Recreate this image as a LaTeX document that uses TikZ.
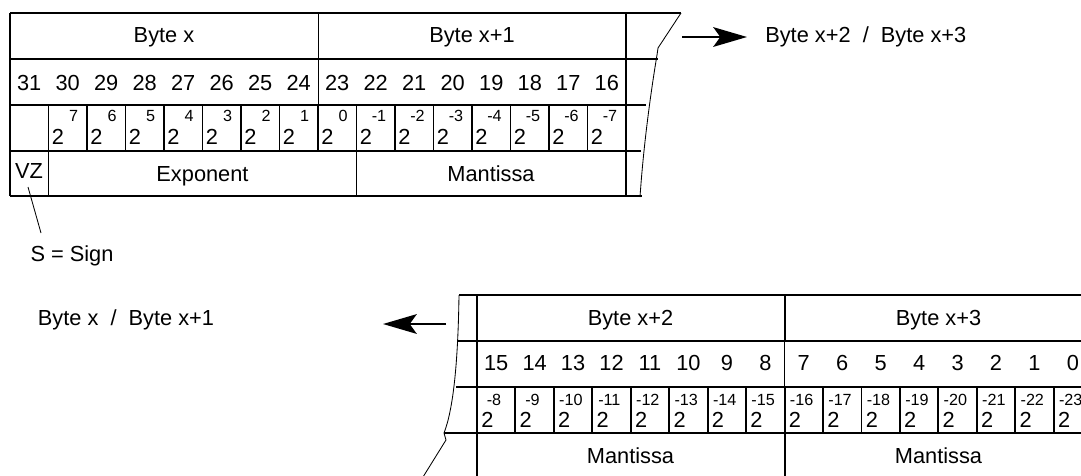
\documentclass[tikz,border=0pt]{standalone}
\usepackage{fontspec}
\setmainfont{Liberation Sans}
\usetikzlibrary{arrows.meta, calc}

\tikzset{
  grid/.style={line width=1.4pt},
  fine/.style={line width=0.6pt},
  tear/.style={line width=0.6pt},
  lbl/.style={font=\fontsize{15.5}{18}\selectfont, inner sep=0pt, anchor=base},
  expo/.style={font=\fontsize{11.5}{13}\selectfont, inner sep=0pt},
  bigarrow/.style={line width=1.4pt, -{Stealth[length=24pt, width=14pt, inset=5pt]}}
}

\begin{document}
\begin{tikzpicture}[x=0.25mm, y=-0.25mm]
  \useasboundingbox (0,0) rectangle (1081,475);
  \clip (0,0) rectangle (1081,475);
  %--- BYTE X / BYTE X+1 ---
  \begin{scope}[shift={(10,13)}]
    \draw[grid] (0,0) -- (671,0);
    \draw[grid] (0,46) -- (648,46);
    \draw[grid] (0,92) -- (636,92);
    \draw[grid] (0,138) -- (631,138);
    \draw[grid] (0,183) -- (632,183);
    \draw[grid] (0,0) -- (0,183);
    \draw[grid] (616,0) -- (616,183);
    \draw[fine] (308,0) -- (308,92);
    \foreach \k in {1,...,15}
      \draw[grid] (\k*38.5,92) -- (\k*38.5,138);
    \draw[grid] (38.5,138) -- (38.5,183);
    \draw[grid] (346.5,138) -- (346.5,183);
    \draw[tear] (671,0) -- (648,35) -- (647,42)
      .. controls (639,90) and (633,140) .. (630,184);
    \node[lbl] (bytex) at (154,29) {Byte x};
    \node[lbl] (bytexa) at (462,29) {Byte x+1};
    \foreach \b [count=\k from 0] in {31,...,16}
      \node[lbl] (bit\b) at (\k*38.5+19.25,77) {\b};
    \foreach \k in {1,...,15} {
      \pgfmathtruncatemacro\e{8-\k}
      \node[lbl, anchor=base west] (two\k) at (\k*38.5+3,131) {2};
      \node[expo, anchor=base east] (exp\k) at (\k*38.5+30,108) {\e};
    }
    \node[lbl] (vz) at (19,165) {VZ};
    \node[lbl] (exponent) at (192.5,168) {Exponent};
    \node[lbl] (mantA) at (481,168) {Mantissa};
  \end{scope}
  %--- BYTE X+2 / BYTE X+3 ---
  \begin{scope}[shift={(477,295)}]
    \draw[grid] (-18,0) -- (615,0);
    \draw[grid] (-19,46) -- (615,46);
    \draw[grid] (-21,92) -- (615,92);
    \draw[grid] (-33,138) -- (615,138);
    \draw[grid] (0,0) -- (0,184);
    \draw[grid] (307.6,0) -- (307.6,46);
    \draw[fine] (307.6,46) -- (307.6,92);
    \draw[grid] (307.6,92) -- (307.6,184);
    \foreach \k in {1,...,16}
      \draw[grid] (\k*38.45,92) -- (\k*38.45,138);
    \draw[tear] (-18,0) .. controls (-19,70) and (-24,115) .. (-33,138)
      -- (-31,145) -- (-54,182);
    \node[lbl] (bytexb) at (153.5,30) {Byte x+2};
    \node[lbl] (bytexc) at (461.5,30) {Byte x+3};
    \foreach \b [count=\k from 0] in {15,...,0}
      \node[lbl] (bitb\b) at (\k*38.45+19.2,75) {\b};
    \foreach \k in {0,...,15} {
      \pgfmathtruncatemacro\e{-8-\k}
      \node[lbl, anchor=base west] (twob\k) at (\k*38.45+4,132) {2};
      \node[expo, anchor=base] (expb\k) at (\k*38.45+17,110) {\e};
    }
    \node[lbl] (mantB) at (153.5,168) {Mantissa};
    \node[lbl] (mantC) at (461.5,168) {Mantissa};
  \end{scope}
  %--- SIGN ---
  \node[lbl] (sign) at (72,261) {S = Sign};
  \coordinate (vzfoot) at (28,187);
  \coordinate (signtop) at (41,233);
  \draw[fine] (vzfoot) -- (signtop);
  %--- ARROWS ---
  \node[lbl, anchor=base west] (nextbytes) at (765,42) {Byte x+2\ \ /\ \ Byte x+3};
  \coordinate (fwdtail) at (682,37);
  \coordinate (fwdtip) at (747,37);
  \draw[bigarrow] (fwdtail) -- (fwdtip);
  \node[lbl] (prevbytes) at (126,325) {Byte x\ \ /\ \ Byte x+1};
  \coordinate (backtail) at (446,324);
  \coordinate (backtip) at (383,324);
  \draw[bigarrow] (backtail) -- (backtip);
\end{tikzpicture}
\end{document}
